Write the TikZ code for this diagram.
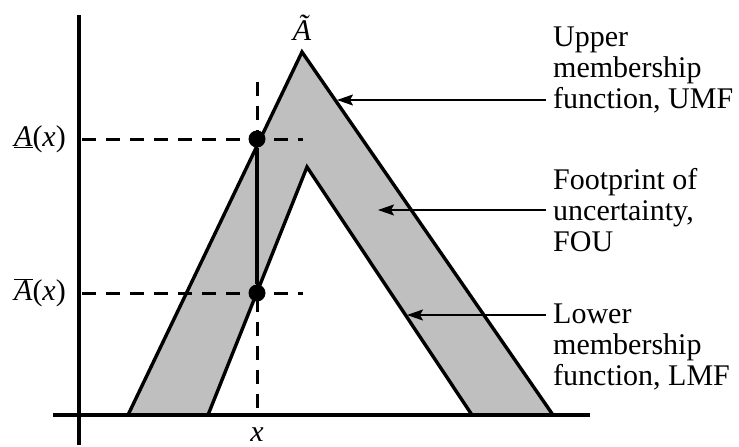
\documentclass[tikz,border=0pt]{standalone}
\usepackage{fontspec}
\setmainfont{Liberation Serif}
\usepackage{xcolor}
\usetikzlibrary{arrows.meta}
\definecolor{fouGray}{gray}{0.75}

\begin{document}
\begin{tikzpicture}[x=1pt,y=-1pt,>=Stealth,
    axis/.style={line width=3.4pt},
    curve/.style={line width=3.4pt,line join=miter},
    guide/.style={line width=3pt,dash pattern=on 14pt off 10pt},
    pointer/.style={->,line width=1.6pt,>={Stealth[length=16pt,width=11pt,inset=3pt]}},
    note/.style={anchor=west,align=left,inner sep=0pt,font=\fontsize{30}{31}\selectfont},
    label/.style={inner sep=0pt,font=\fontsize{30}{31}\selectfont},
    dot/.style={circle,fill,inner sep=0pt,minimum size=17pt}]
    \useasboundingbox (0,0) rectangle (739,447);

    % outer and inner triangle
    \coordinate (oL) at (128,415);
    \coordinate (oT) at (302,52);
    \coordinate (oR) at (553,415);
    \coordinate (iL) at (208,415);
    \coordinate (iT) at (307,167);
    \coordinate (iR) at (472,415);
    \fill[fouGray] (oL) -- (oT) -- (oR) -- cycle;
    \fill[white] (iL) -- (iT) -- (iR) -- cycle;

    % guide lines
    \coordinate (vTop) at (257,82);
    \coordinate (vBot) at (257,413);
    \coordinate (hUpL) at (82,139);
    \coordinate (hUpR) at (303,139);
    \coordinate (hLoL) at (82,293);
    \coordinate (hLoR) at (303,293);
    \draw[guide] (vTop) -- (vBot);
    \draw[guide] (hUpL) -- (hUpR);
    \draw[guide] (hLoL) -- (hLoR);

    \draw[curve] (oL) -- (oT) -- (oR);
    \draw[curve] (iL) -- (iT) -- (iR);

    % axes
    \coordinate (yTop) at (79,15);
    \coordinate (yBot) at (79,445);
    \coordinate (xLeft) at (53,415);
    \coordinate (xRight) at (590,415);
    \draw[axis] (yTop) -- (yBot);
    \draw[axis] (xLeft) -- (xRight);

    % membership interval at x
    \node[dot] (up) at (257,139) {};
    \node[dot] (lo) at (257,293) {};
    \draw[axis] (up) -- (lo);

    \node[label,anchor=east] (upLab) at (66,139) {\underline{\textit{A}}(\textit{x})};
    \node[label,anchor=east] (loLab) at (66,293) {$\overline{\mbox{\textit{A}}}$(\textit{x})};
    \node[label] (setLab) at (302,28) {\textit{\~A}};
    \node[label] (xLab) at (257,435) {\textit{x}};

    % annotations
    \node[note] (umf) at (553,70) {Upper\\membership\\function, UMF};
    \node[note] (fou) at (553,210) {Footprint of\\uncertainty,\\FOU};
    \node[note] (lmf) at (553,347) {Lower\\membership\\function, LMF};

    \coordinate (umfTail) at (546,100);
    \coordinate (umfTip) at (337,100);
    \coordinate (fouTail) at (546,210);
    \coordinate (fouTip) at (378,210);
    \coordinate (lmfTail) at (546,315);
    \coordinate (lmfTip) at (407,315);
    \draw[pointer] (umfTail) -- (umfTip);
    \draw[pointer] (fouTail) -- (fouTip);
    \draw[pointer] (lmfTail) -- (lmfTip);
\end{tikzpicture}
\end{document}
